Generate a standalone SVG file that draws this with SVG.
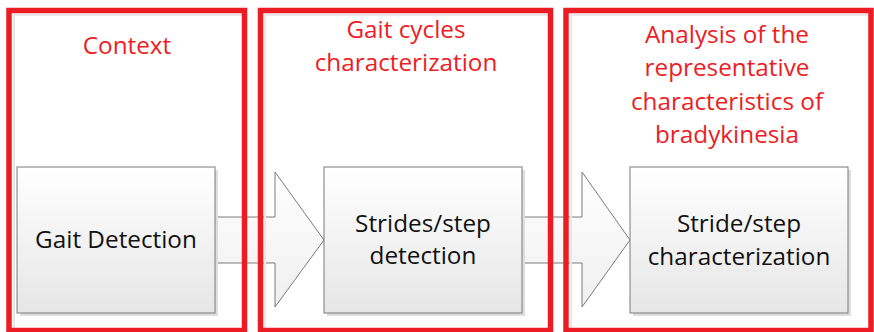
<svg xmlns="http://www.w3.org/2000/svg" width="874" height="332" viewBox="0 0 874 332">
  <defs>
    <linearGradient id="boxGrad" x1="0" y1="0" x2="0" y2="1">
      <stop offset="0" stop-color="#ffffff"/>
      <stop offset="1" stop-color="#e6e6e6"/>
    </linearGradient>
    <linearGradient id="arrowGrad" x1="0" y1="0" x2="0" y2="1">
      <stop offset="0" stop-color="#ffffff"/>
      <stop offset="1" stop-color="#efefef"/>
    </linearGradient>
  </defs>
  <style>
    .frame { fill: none; stroke: #ec1c24; stroke-width: 5.5; }
    .frameShadow { fill: none; stroke: #e8e8e8; stroke-width: 2; }
    .box { fill: url(#boxGrad); stroke: #7a7a7a; stroke-width: 1; }
    .shadow { fill: #dedede; }
    .arrow { fill: url(#arrowGrad); stroke: #7a7a7a; stroke-width: 1; stroke-linejoin: miter; }
    .lbl { font-family: "Open Sans", "Noto Sans", sans-serif; font-size: 24.3px; text-anchor: middle; }
    .red { fill: #ee1c24; }
    .blk { fill: #111111; }
  </style>
  <rect width="874" height="332" fill="#ffffff"/>

  <g id="connectors">
    <path class="arrow" d="M215,217 L275,217 L275,172 L324,240 L275,307 L275,263 L215,263"/>
    <path class="arrow" d="M522,217 L582,217 L582,172 L630,240 L582,307 L582,263 L522,263"/>
  </g>

  <g id="frame-context">
    <rect class="frameShadow" x="14" y="15" width="229" height="320"/>
    <rect class="frame" x="9" y="10.5" width="235.5" height="320"/>
    <text class="lbl red" x="127" y="54">Context</text>
  </g>
  <g id="frame-gait-cycles">
    <rect class="frameShadow" x="265" y="15" width="284" height="320"/>
    <rect class="frame" x="260.5" y="10.5" width="290" height="320"/>
    <text class="lbl red" x="406" y="38">Gait cycles</text>
    <text class="lbl red" x="406" y="71">characterization</text>
  </g>
  <g id="frame-analysis">
    <rect class="frameShadow" x="571" y="15" width="300" height="320"/>
    <rect class="frame" x="566" y="10.5" width="305" height="320"/>
    <text class="lbl red" x="727" y="43">Analysis of the</text>
    <text class="lbl red" x="727" y="76">representative</text>
    <text class="lbl red" x="727" y="110">characteristics of</text>
    <text class="lbl red" x="727" y="143">bradykinesia</text>
  </g>

  <g id="node-gait-detection">
    <rect class="shadow" x="20" y="170" width="198" height="146"/>
    <rect class="box" x="17" y="167" width="198" height="146"/>
    <text class="lbl blk" x="116" y="248">Gait Detection</text>
  </g>
  <g id="node-strides-detection">
    <rect class="shadow" x="327" y="170" width="198" height="146"/>
    <rect class="box" x="324" y="167" width="198" height="146"/>
    <text class="lbl blk" x="423" y="232">Strides/step</text>
    <text class="lbl blk" x="423" y="264">detection</text>
  </g>
  <g id="node-stride-characterization">
    <rect class="shadow" x="633" y="170" width="218" height="146"/>
    <rect class="box" x="630" y="167" width="218" height="146"/>
    <text class="lbl blk" x="739" y="232">Stride/step</text>
    <text class="lbl blk" x="739" y="265">characterization</text>
  </g>
</svg>
